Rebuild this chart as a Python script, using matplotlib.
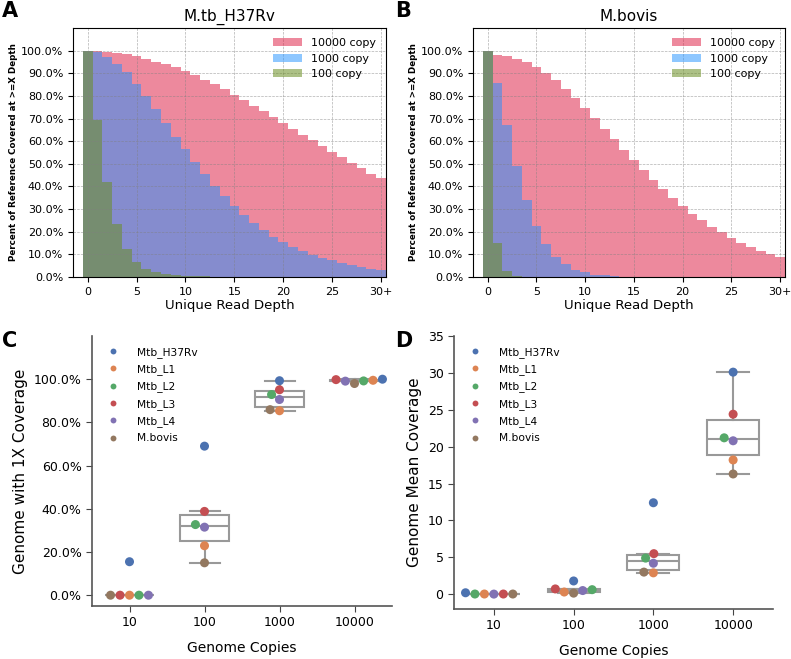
import numpy as np
import pandas as pd
import matplotlib
matplotlib.use("Agg")
import matplotlib.pyplot as plt
from matplotlib.ticker import PercentFormatter
import seaborn as sns

# depth histograms (percent of reference covered at >= X depth), depth 0..30+
depth = np.arange(31)
depth_labels = ['0', '5', '10', '15', '20', '25', '30+']

h37rv_10000 = [100, 100, 99.6, 99.1, 98.5, 97.6, 96.2, 95.1, 94.2, 92.9, 91.2, 89.1, 87.2, 85.1,
               82.9, 80.6, 78.2, 75.7, 73.2, 70.7, 68.2, 65.5, 62.9, 60.4, 57.9, 55.2, 52.9,
               50.4, 48.2, 45.7, 43.7]
h37rv_1000 = [100, 99.2, 97.2, 94.3, 90.4, 85.4, 80.0, 74.2, 68.1, 62.0, 56.4, 50.6, 45.4, 40.3,
              35.6, 31.3, 27.2, 23.9, 20.6, 17.8, 15.5, 13.3, 11.5, 9.9, 8.5, 7.4, 6.2, 5.2,
              4.4, 3.7, 3.2]
h37rv_100 = [100, 69.3, 41.8, 23.3, 12.5, 6.7, 3.7, 2.2, 1.3, 0.9, 0.6, 0.4, 0.3, 0.2, 0.15,
             0.1, 0.08, 0.06, 0.05, 0.04, 0.03, 0.03, 0.02, 0.02, 0.02, 0.01, 0.01, 0.01,
             0.01, 0.01, 0.01]

bovis_10000 = [100, 97.9, 97.5, 96.5, 94.9, 92.8, 90.1, 86.9, 83.2, 79.2, 74.8, 70.3, 65.6, 60.9,
               56.2, 51.6, 47.1, 42.8, 38.7, 34.9, 31.3, 28.0, 25.0, 22.1, 19.7, 17.3, 15.2,
               13.3, 11.7, 10.3, 9.0]
bovis_1000 = [100, 85.7, 67.3, 49.0, 33.9, 22.4, 14.4, 9.0, 5.6, 3.3, 2.0, 1.1, 0.7, 0.4, 0.2,
              0.1, 0.05, 0.03, 0.02, 0.01, 0, 0, 0, 0, 0, 0, 0, 0, 0, 0, 0]
bovis_100 = [100, 14.9, 2.8, 0.3, 0.05, 0, 0, 0, 0, 0, 0, 0, 0, 0, 0, 0, 0, 0, 0, 0, 0, 0, 0,
             0, 0, 0, 0, 0, 0, 0, 0]

# genome coverage by copy number, per strain (values for 10, 100, 1000, 10000 copies)
copies = ['10', '100', '1000', '10000']
strains = ['Mtb_H37Rv', 'Mtb_L1', 'Mtb_L2', 'Mtb_L3', 'Mtb_L4', 'M.bovis']

cov1x = {
    'Mtb_H37Rv': [0.155, 0.690, 0.993, 1.000],
    'Mtb_L1':    [0.0, 0.229, 0.854, 0.995],
    'Mtb_L2':    [0.0, 0.327, 0.929, 0.992],
    'Mtb_L3':    [0.0, 0.388, 0.951, 0.998],
    'Mtb_L4':    [0.0, 0.315, 0.906, 0.991],
    'M.bovis':   [0.0, 0.150, 0.859, 0.980],
}
mean_cov = {
    'Mtb_H37Rv': [0.20, 1.80, 12.4, 30.1],
    'Mtb_L1':    [0.03, 0.30, 2.9, 18.2],
    'Mtb_L2':    [0.03, 0.62, 4.9, 21.2],
    'Mtb_L3':    [0.03, 0.72, 5.5, 24.4],
    'Mtb_L4':    [0.02, 0.50, 4.2, 20.8],
    'M.bovis':   [0.03, 0.15, 3.0, 16.3],
}

W, H = 791, 659
fig = plt.figure(figsize=(W / 100, H / 100), dpi=100)

def px(l, t, r, b):
    return [l / W, 1 - b / H, (r - l) / W, (b - t) / H]

axA = fig.add_axes(px(73, 28, 386, 277))
axB = fig.add_axes(px(473, 28, 785, 277))
axC = fig.add_axes(px(92, 336, 392, 606))
axD = fig.add_axes(px(454, 336, 773, 609))


def depth_panel(ax, d10000, d1000, d100, title):
    ax.bar(depth, np.array(d10000) / 100, width=1.0, color='crimson', alpha=0.5,
           label='10000 copy', linewidth=0)
    ax.bar(depth, np.array(d1000) / 100, width=1.0, color='dodgerblue', alpha=0.5,
           label='1000 copy', linewidth=0)
    ax.bar(depth, np.array(d100) / 100, width=1.0, color='olivedrab', alpha=0.55,
           label='100 copy', linewidth=0)
    ax.set_xlim(-1.5, 30.5)
    ax.set_ylim(0, 1.10)
    ax.set_yticks(np.arange(0, 1.01, 0.1))
    ax.yaxis.set_major_formatter(PercentFormatter(1, decimals=1))
    ax.set_xticks(np.arange(0, 31, 5))
    ax.set_xticklabels(depth_labels)
    ax.tick_params(labelsize=8)
    ax.grid(True, linestyle='--', color='gray', linewidth=0.5, alpha=0.6)
    ax.set_title(title, fontsize=11, pad=5)
    ax.set_xlabel('Unique Read Depth', fontsize=9.5, labelpad=2)
    ax.set_ylabel('Percent of Reference Covered at >=X Depth', fontsize=6.3,
                  fontweight='bold', labelpad=2)
    ax.legend(loc='upper right', frameon=False, fontsize=8, handlelength=2.6,
              labelspacing=0.5)


depth_panel(axA, h37rv_10000, h37rv_1000, h37rv_100, 'M.tb_H37Rv')
depth_panel(axB, bovis_10000, bovis_1000, bovis_100, 'M.bovis')


def copies_panel(ax, values, ylabel):
    rows = []
    for s in strains:
        for c, v in zip(copies, values[s]):
            rows.append({'copies': c, 'value': v, 'strain': s})
    df = pd.DataFrame(rows)
    groups = [df.loc[df.copies == c, 'value'].values for c in copies]
    gray = '#999999'
    ax.boxplot(groups, positions=range(len(copies)), widths=0.65, showfliers=False,
               patch_artist=True, manage_ticks=False, capwidths=0.4,
               boxprops=dict(facecolor='white', edgecolor=gray, linewidth=1.5),
               whiskerprops=dict(color=gray, linewidth=1.5),
               capprops=dict(color=gray, linewidth=1.5),
               medianprops=dict(color=gray, linewidth=1.5), zorder=1)
    sns.swarmplot(data=df, x='copies', y='value', hue='strain', order=copies,
                  hue_order=strains, palette='deep', size=6.5, ax=ax, zorder=3)
    ax.set_xlim(-0.5, 3.5)
    ax.set_xticks(range(len(copies)))
    ax.set_xticklabels(copies)
    ax.set_xlabel('Genome Copies', fontsize=10, labelpad=8)
    ax.set_ylabel(ylabel, fontsize=11)
    ax.tick_params(labelsize=9, color='#444444', length=4)
    for side in ['top', 'right']:
        ax.spines[side].set_visible(False)
    for side in ['left', 'bottom']:
        ax.spines[side].set_color('#555555')
        ax.spines[side].set_linewidth(1.2)
    ax.legend(loc='upper left', frameon=False, fontsize=7.7, markerscale=0.65,
              labelspacing=0.6, handletextpad=1.2, borderaxespad=0.6)


copies_panel(axC, cov1x, 'Genome with 1X Coverage')
axC.set_ylim(-0.05, 1.20)
axC.set_yticks(np.arange(0, 1.01, 0.2))
axC.yaxis.set_major_formatter(PercentFormatter(1, decimals=1))

copies_panel(axD, mean_cov, 'Genome Mean Coverage')
axD.set_ylim(-2, 35)
axD.set_yticks(np.arange(0, 36, 5))

for x, y, lab in [(2, 1, 'A'), (395, 1, 'B'), (2, 331, 'C'), (395, 331, 'D')]:
    fig.text(x / W, 1 - y / H, lab, fontsize=15, fontweight='bold', ha='left', va='top')

fig.savefig('out.png', dpi=100)
